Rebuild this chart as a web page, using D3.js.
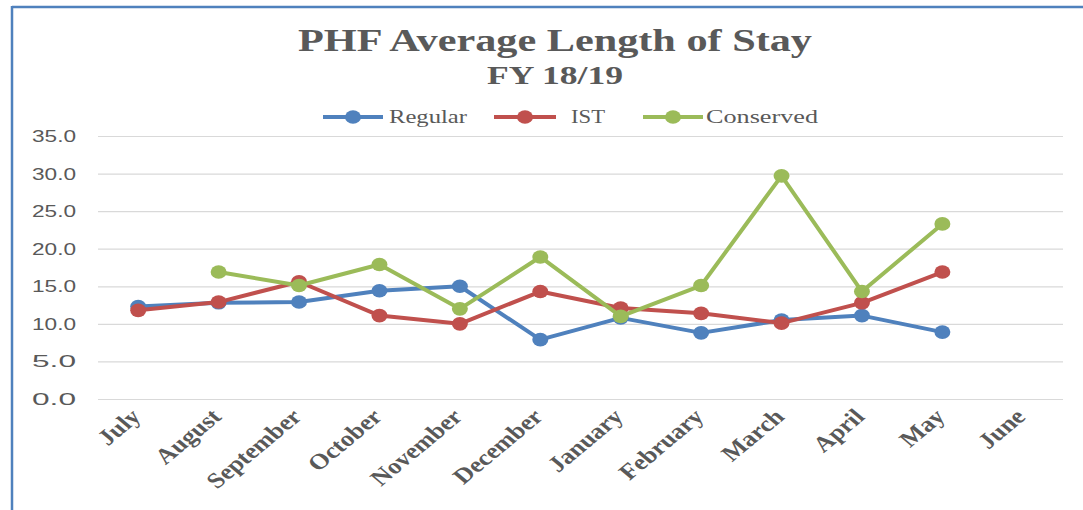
<!DOCTYPE html>
<html>
<head>
<meta charset="utf-8">
<script src="https://cdn.jsdelivr.net/npm/d3@7"></script>
<style>
  html, body { margin: 0; padding: 0; background: #fff; }
  svg { display: block; }
</style>
</head>
<body>
<svg id="chart" width="1083" height="510"></svg>
<script>
const months = ["July","August","September","October","November","December","January","February","March","April","May","June"];
const regular   = [12.3, 12.8, 12.9, 14.4, 15.0, 7.9, 10.8, 8.8, 10.5, 11.1, 8.9, null];
const ist       = [11.8, 12.9, 15.6, 11.1, 10.0, 14.3, 12.1, 11.4, 10.1, 12.8, 16.9, null];
const conserved = [null, 16.9, 15.1, 17.9, 12.0, 18.9, 11.0, 15.1, 29.7, 14.3, 23.3, null];
const yTicks = [0, 5, 10, 15, 20, 25, 30, 35];
const seriesNames = ["Regular", "IST", "Conserved"];
const seriesColors = ["#4f81bd", "#c0504d", "#9bbb59"];
const seriesData = [regular, ist, conserved];

const svg = d3.select("#chart");
const textColor = "#595959";

// frame (top and left edges visible)
svg.append("line").attr("x1", 12).attr("x2", 1083).attr("y1", 7).attr("y2", 7)
  .attr("stroke", "#4f81bd").attr("stroke-width", 2.5);
svg.append("line").attr("x1", 12).attr("x2", 12).attr("y1", 6).attr("y2", 510)
  .attr("stroke", "#4f81bd").attr("stroke-width", 2.5);

// Title
svg.append("text").attr("x", 555).attr("y", 51)
  .attr("text-anchor", "middle")
  .attr("font-family", "'Liberation Serif', serif").attr("font-weight", "bold")
  .attr("font-size", 32).attr("fill", textColor)
  .attr("textLength", 514).attr("lengthAdjust", "spacingAndGlyphs")
  .text("PHF Average Length of Stay");
svg.append("text").attr("x", 555).attr("y", 84)
  .attr("text-anchor", "middle")
  .attr("font-family", "'Liberation Serif', serif").attr("font-weight", "bold")
  .attr("font-size", 25).attr("fill", textColor)
  .attr("textLength", 136).attr("lengthAdjust", "spacingAndGlyphs")
  .text("FY 18/19");

// Scales
const x = d3.scalePoint().domain(months).range([98, 1063]).padding(0.5);
const y = d3.scaleLinear().domain([0, 35]).range([399, 136]);

// Gridlines
svg.append("g").selectAll("line").data(yTicks).join("line")
  .attr("x1", 98).attr("x2", 1063)
  .attr("y1", d => y(d) + 0.5).attr("y2", d => y(d) + 0.5)
  .attr("stroke", "#d9d9d9").attr("stroke-width", 1.2);

// Y axis labels
svg.append("g").selectAll("text").data(yTicks).join("text")
  .attr("x", 76).attr("y", d => y(d) + 6)
  .attr("text-anchor", "end")
  .attr("font-family", "'Liberation Sans', Arial, sans-serif")
  .attr("font-size", 17).attr("fill", textColor)
  .attr("textLength", 44).attr("lengthAdjust", "spacingAndGlyphs")
  .text(d => d.toFixed(1));

// X axis labels (rotated, horizontally stretched like the reference)
svg.append("g").selectAll("text").data(months).join("text")
  .attr("transform", d => `translate(${x(d) + 4},${418}) scale(1.2,1) rotate(-45)`)
  .attr("text-anchor", "end")
  .attr("font-family", "'Liberation Serif', serif").attr("font-weight", "bold")
  .attr("font-size", 22).attr("fill", textColor)
  .text(d => d);

// Lines and markers
seriesData.forEach((vals, i) => {
  const pts = months.map((m, j) => ({ m, v: vals[j] }));
  const line = d3.line()
    .defined(d => d.v !== null)
    .x(d => x(d.m)).y(d => y(d.v));
  svg.append("path").datum(pts)
    .attr("fill", "none").attr("stroke", seriesColors[i])
    .attr("stroke-width", 4).attr("stroke-linejoin", "round")
    .attr("d", line);
  svg.append("g").selectAll("ellipse").data(pts.filter(d => d.v !== null)).join("ellipse")
    .attr("cx", d => x(d.m)).attr("cy", d => y(d.v))
    .attr("rx", 8).attr("ry", 6.8)
    .attr("fill", seriesColors[i]);
});

// Legend
const legendItems = [
  { x1: 323, x2: 383, tx: 389, tw: 78 },
  { x1: 494, x2: 556, tx: 571, tw: 34 },
  { x1: 643, x2: 703, tx: 706, tw: 112 }
];
const lg = svg.append("g");
legendItems.forEach((it, i) => {
  lg.append("line").attr("x1", it.x1).attr("x2", it.x2).attr("y1", 117).attr("y2", 117)
    .attr("stroke", seriesColors[i]).attr("stroke-width", 4);
  lg.append("ellipse").attr("cx", (it.x1 + it.x2) / 2).attr("cy", 117)
    .attr("rx", 8).attr("ry", 6.8).attr("fill", seriesColors[i]);
  lg.append("text").attr("x", it.tx).attr("y", 123)
    .attr("font-family", "'Liberation Serif', serif")
    .attr("font-size", 19).attr("fill", textColor)
    .attr("textLength", it.tw).attr("lengthAdjust", "spacingAndGlyphs")
    .text(seriesNames[i]);
});
</script>
</body>
</html>
